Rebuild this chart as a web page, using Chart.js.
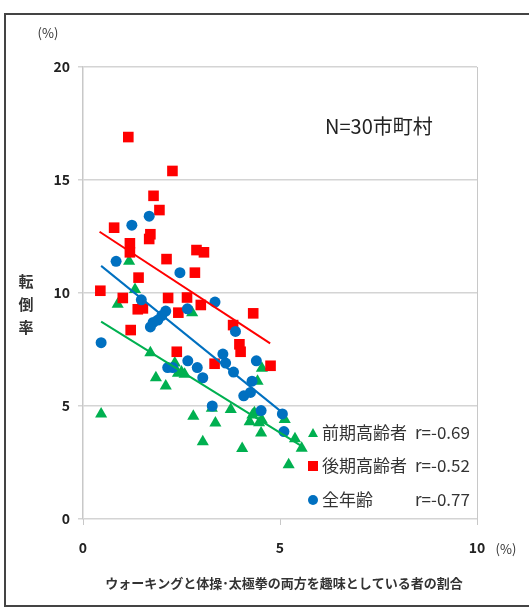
<!DOCTYPE html>
<html>
<head>
<meta charset="utf-8">
<script src="https://cdn.jsdelivr.net/npm/chart.js@4/dist/chart.umd.min.js"></script>
<style>
  body { margin: 0; background: #fff; }
  canvas { display: block; }
</style>
</head>
<body>
<canvas id="chart" width="529" height="610"></canvas>
<script>
// 前期高齢者 (green triangles)
const zenkiX = [1.17, 1.32, 0.88, 2.77, 1.71, 2.33, 2.41, 2.58, 1.85, 2.10, 4.54, 4.43, 0.46, 2.80, 3.27,
                3.75, 3.36, 3.04, 4.04, 4.30, 4.23, 4.47, 4.54, 4.52, 5.12, 5.38, 5.55, 5.22, 4.35, 2.50];
const zenkiY = [11.4, 10.15, 9.5, 9.13, 7.36, 6.9, 6.45, 6.4, 6.25, 5.88, 6.67, 6.1, 4.65, 4.55, 4.9,
                4.85, 4.25, 3.42, 3.12, 4.6, 4.3, 4.26, 4.38, 3.8, 4.4, 3.55, 3.13, 2.4, 4.7, 6.5];
// 後期高齢者 (red squares)
const kokiX = [1.15, 2.27, 1.79, 1.94, 0.79, 1.71, 1.68, 1.19, 1.19, 2.12, 2.88, 3.07, 2.84, 1.41, 0.44,
               1.01, 2.16, 2.64, 2.99, 1.39, 1.52, 2.42, 4.32, 1.21, 3.81, 3.97, 4.00, 2.38, 3.34, 4.76];
const kokiY = [16.9, 15.4, 14.3, 13.67, 12.89, 12.6, 12.39, 12.2, 11.8, 11.5, 11.9, 11.8, 10.9, 10.68, 10.1,
               9.78, 9.78, 9.8, 9.47, 9.28, 9.32, 9.13, 9.1, 8.36, 8.58, 7.73, 7.4, 7.4, 6.87, 6.78];
// 全年齢 (blue circles)
const zenX = [1.68, 1.24, 0.84, 2.46, 1.48, 3.35, 2.65, 2.10, 2.00, 1.90, 1.78, 1.71, 3.87, 0.46, 3.55,
              3.62, 4.40, 2.66, 2.15, 2.28, 2.90, 3.82, 3.04, 4.29, 4.08, 4.25, 3.28, 4.52, 5.06, 5.10];
const zenY = [13.4, 13.0, 11.4, 10.9, 9.7, 9.6, 9.3, 9.2, 9.0, 8.8, 8.7, 8.5, 8.3, 7.8, 7.3,
              6.9, 7.0, 7.0, 6.7, 6.7, 6.7, 6.5, 6.25, 6.1, 5.45, 5.6, 5.0, 4.8, 4.65, 3.87];

// 近似直線 (endpoints)
const trendZenkiX = [0.46, 5.57], trendZenkiY = [8.73, 3.2];
const trendKokiX = [0.42, 4.75], trendKokiY = [12.71, 7.77];
const trendZenX = [0.46, 5.03], trendZenY = [11.2, 4.75];

const xTicks = [0, 5, 10];
const yTicks = [0, 5, 10, 15, 20];
const seriesNames = ['前期高齢者', '後期高齢者', '全年齢'];
const rValues = ['r=-0.69', 'r=-0.52', 'r=-0.77'];

const GREEN = '#00b050', RED = '#ff0000', BLUE = '#0070c0';
const JP = '"Noto Sans CJK JP", "Noto Sans", sans-serif';

function pts(xs, ys) {
  return xs.map(function(x, i) { return { x: x, y: ys[i] }; });
}

function trend(xs, ys, color) {
  return {
    type: 'line', data: pts(xs, ys), borderColor: color, borderWidth: 2,
    pointRadius: 0, fill: false, order: 0
  };
}

const textPlugin = {
  id: 'texts',
  afterDraw: function(chart) {
    const ctx = chart.ctx;
    ctx.save();
    // frame
    ctx.strokeStyle = '#444';
    ctx.lineWidth = 2;
    ctx.strokeRect(5, 14, 560, 592);

    ctx.fillStyle = '#333';
    ctx.textBaseline = 'middle';
    ctx.font = '13px ' + JP;
    ctx.textAlign = 'center';
    ctx.fillText('(%)', 48, 33);
    ctx.fillText('(%)', 506, 549);

    // y title, vertical
    ctx.font = 'bold 15px ' + JP;
    ['転', '倒', '率'].forEach(function(ch, i) {
      ctx.fillText(ch, 26, 281 + i * 23);
    });

    // x title
    ctx.font = 'bold 13px ' + JP;
    ctx.fillText('ウォーキングと体操･太極拳の両方を趣味としている者の割合', 284, 583);

    // N label
    ctx.font = '20px ' + JP;
    ctx.textAlign = 'left';
    ctx.fillStyle = '#222';
    ctx.fillText('N=30市町村', 325, 126);

    // legend box
    const colors = [GREEN, RED, BLUE];
    const rowY = [433, 466, 500];
    ctx.font = '17px ' + JP;
    for (let i = 0; i < 3; i++) {
      const y = rowY[i];
      ctx.fillStyle = colors[i];
      ctx.beginPath();
      if (i === 0) {
        ctx.moveTo(313, y - 5); ctx.lineTo(318, y + 4); ctx.lineTo(308, y + 4); ctx.closePath();
      } else if (i === 1) {
        ctx.rect(308, y - 5, 10, 10);
      } else {
        ctx.arc(313, y, 5, 0, Math.PI * 2);
      }
      ctx.fill();
      ctx.fillStyle = '#333';
      ctx.fillText(seriesNames[i], 322, y);
      ctx.fillText(rValues[i], 415, y);
    }
    ctx.restore();
  }
};

new Chart(document.getElementById('chart'), {
  type: 'scatter',
  data: {
    datasets: [
      { label: seriesNames[2], data: pts(zenX, zenY), pointStyle: 'circle', pointRadius: 5.5,
        backgroundColor: BLUE, borderColor: BLUE, borderWidth: 0, order: 1 },
      { label: seriesNames[1], data: pts(kokiX, kokiY), pointStyle: 'rect', pointRadius: 7.5,
        backgroundColor: RED, borderColor: RED, borderWidth: 0, order: 2 },
      { label: seriesNames[0], data: pts(zenkiX, zenkiY), pointStyle: 'triangle', pointRadius: 7,
        backgroundColor: GREEN, borderColor: GREEN, borderWidth: 0, order: 3 },
      trend(trendZenkiX, trendZenkiY, GREEN),
      trend(trendKokiX, trendKokiY, RED),
      trend(trendZenX, trendZenY, BLUE)
    ]
  },
  options: {
    responsive: false,
    animation: false,
    layout: { padding: { top: 67, right: 52, bottom: 0, left: 0 } },
    plugins: { legend: { display: false }, tooltip: { enabled: false } },
    scales: {
      x: {
        type: 'linear', min: 0, max: 10,
        afterBuildTicks: function(scale) { scale.ticks = xTicks.map(function(v) { return { value: v }; }); },
        afterFit: function(scale) { scale.height = 91; },
        grid: {
          color: function(c) { return c.tick && c.tick.value === 10 ? '#c8c8c8' : 'rgba(0,0,0,0)'; },
          tickColor: '#c8c8c8', tickLength: 6
        },
        border: { display: false },
        ticks: { color: '#222', padding: 14, font: { family: JP, size: 14, weight: 'bold' } }
      },
      y: {
        type: 'linear', min: 0, max: 20,
        afterBuildTicks: function(scale) { scale.ticks = yTicks.map(function(v) { return { value: v }; }); },
        afterFit: function(scale) { scale.width = 83; },
        grid: { color: '#d4d4d4', tickColor: '#d4d4d4', tickLength: 5, lineWidth: 1.5 },
        border: { display: true, color: '#c8c8c8', width: 1.5 },
        ticks: { color: '#222', padding: 8, font: { family: JP, size: 14, weight: 'bold' } }
      }
    }
  },
  plugins: [textPlugin]
});
</script>
</body>
</html>
